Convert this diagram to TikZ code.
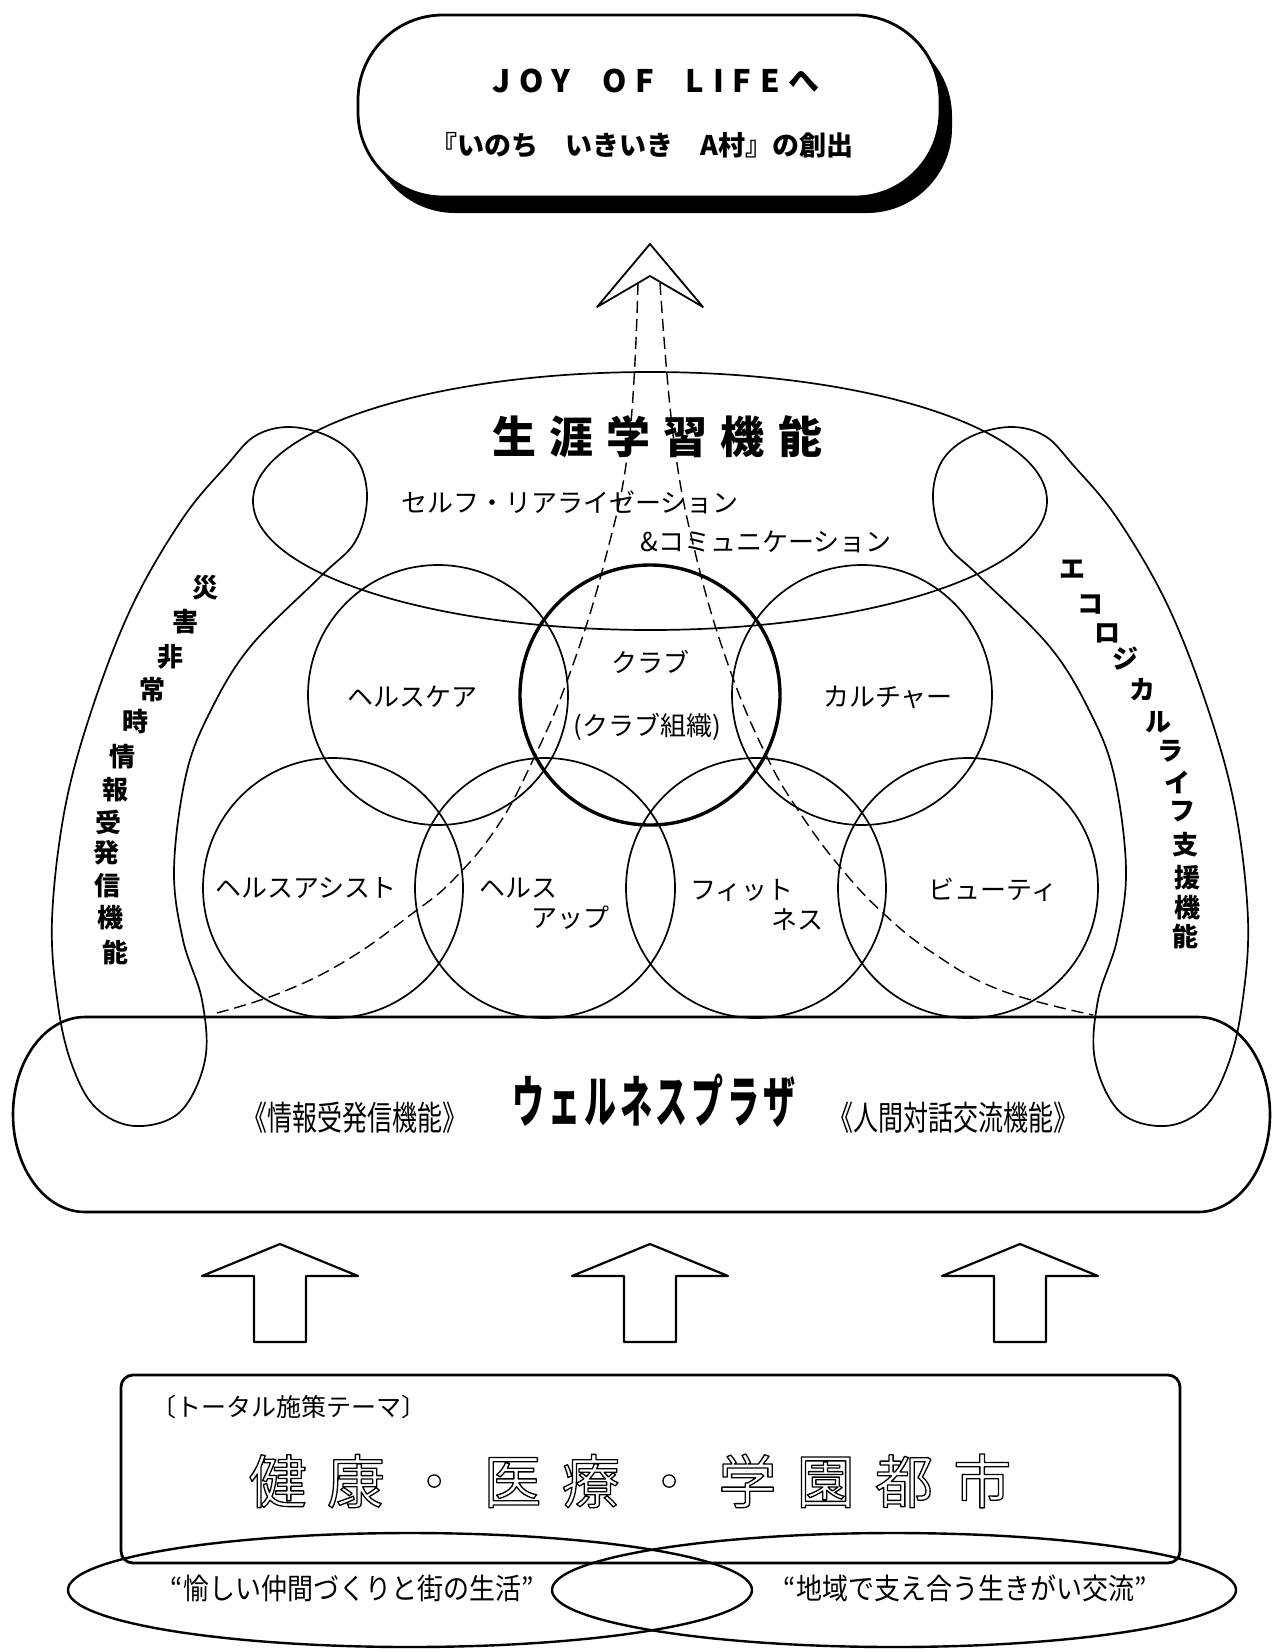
\documentclass[tikz,border=0pt]{standalone}
\usepackage{fontspec}
\setmainfont{Noto Sans CJK JP}
\usepackage{graphicx}
\usetikzlibrary{calc, shadows, shapes.geometric}
\newcommand{\fs}[1]{\fontsize{#1pt}{#1pt}\selectfont}
\newcommand{\hollow}[1]{\special{pdf:code 1 Tr 1.3 w}#1\special{pdf:code 0 Tr}}

\begin{document}
\begin{tikzpicture}[
  x=1pt, y=-1pt,
  line join=round,
  func/.style={circle, draw, line width=1.7pt, minimum size=260pt, inner sep=0pt},
  lbl/.style={font=\fs{26}, inner sep=0pt},
  vchar/.style={font=\fs{26}\bfseries, inner sep=0pt},
  band/.style={draw, line width=1.7pt},
  guide/.style={line width=1.4pt, dash pattern=on 12pt off 6pt},
  uparrow/.style={draw, line width=2.2pt},
  ring/.style={ellipse, draw, line width=2.4pt, inner sep=0pt},
]
\useasboundingbox (0,0) rectangle (1283,1652);
\clip (0,0) rectangle (1283,1652);

% ---------- goal ----------
\node[draw, line width=2.8pt, fill=white, rounded corners=85pt,
      minimum width=582pt, minimum height=182pt,
      drop shadow={fill=black, opacity=1, shadow xshift=12pt, shadow yshift=-16pt}]
  (goal) at (649,106) {};
\node[font=\fs{31}\bfseries\addfontfeature{LetterSpace=28}] (joy) at (656,81)
  {JOY\hspace{16pt} OF\hspace{16pt} LIFEへ};
\node[font=\fs{27}\bfseries] (inochi) at (642,145) {『いのち　いきいき　A村』の創出};

% ---------- upward arrow with dashed shaft ----------
\draw[line width=1.8pt] (597,307) -- (650,244) -- (703,307) -- (650,276) -- cycle;
\draw[guide] plot[smooth, tension=0.7] coordinates {(638,283) (629,442) (605,560) (570,673)
  (533,760) (497,827) (453,880) (413,913) (347,960) (280,993) (213,1014)};
\draw[guide] plot[smooth, tension=0.7] coordinates {(660,283) (674,442) (697,560) (730,670)
  (767,757) (800,813) (840,867) (883,913) (933,953) (1000,990) (1093,1015)};

% ---------- lifelong learning ellipse ----------
\node[ellipse, draw, line width=1.7pt, minimum width=794pt, minimum height=258pt,
      inner sep=0pt] (life) at (650,501) {};
\node[font=\fs{44}\bfseries\addfontfeature{LetterSpace=30}] (lifeT) at (657,437) {生涯学習機能};
\node[font=\fs{26}] (selfT) at (570,502) {セルフ・リアライゼーション};
\node[font=\fs{26}] (commT) at (766,542) {\&コミュニケーション};

% ---------- side bands (left, mirrored right) ----------
\foreach \side in {1,-1}
  \draw[band, shift={({650-650*\side},0)}, xscale=\side]
    plot[smooth cycle, tension=0.6] coordinates {(227,465) (183,518) (133,604) (93,706)
      (65,808) (52,920) (58,1005) (72,1065) (96,1108) (135,1126) (180,1112) (205,1060)
      (202,1000) (183,940) (174,869) (186,775) (210,712) (250,647) (320,577) (355,542)
      (367,499) (358,461) (330,437) (290,427) (255,436)};

\foreach \ch/\px/\py [count=\i] in {災/205/588, 害/185/622, 非/170/657, 常/152/690,
    時/135/722, 情/122/757, 報/115/790, 受/108/822, 発/106/853, 信/107/886,
    機/110/918, 能/115/953}
  \node[vchar] (dis\i) at (\px,\py) {\ch};
\foreach \ch/\px/\py [count=\i] in {エ/1072/569, コ/1090/604, ロ/1107/633, ジ/1125/659,
    カ/1142/690, ル/1158/722, ラ/1170/751, イ/1177/782, フ/1182/812, 支/1185/845,
    援/1187/878, 機/1187/908, 能/1185/937}
  \node[vchar] (eco\i) at (\px,\py) {\ch};

% ---------- function circles ----------
\node[func] (care) at (438,695) {};
\node[func, line width=3.4pt] (club) at (650,695) {};
\node[func] (culture) at (862,695) {};
\node[func] (assist) at (333,888) {};
\node[func] (up) at (545,888) {};
\node[func] (fit) at (756,888) {};
\node[func] (beauty) at (968,888) {};

\node[lbl] (careL) at ($(care)+(-26,2)$) {ヘルスケア};
\node[lbl] (clubL) at ($(club)+(0,-33)$) {クラブ};
\node[lbl] (clubL2) at ($(club)+(-3,32)$) {(クラブ組織)};
\node[lbl] (cultureL) at ($(culture)+(26,2)$) {カルチャー};
\node[lbl] (assistL) at ($(assist)+(-27,0)$) {ヘルスアシスト};
\node[lbl] (upL) at ($(up)+(-27,0)$) {ヘルス};
\node[lbl] (upL2) at ($(up)+(25,30)$) {アップ};
\node[lbl] (fitL) at ($(fit)+(-14,2)$) {フィット};
\node[lbl] (fitL2) at ($(fit)+(41,32)$) {ネス};
\node[lbl] (beautyL) at ($(beauty)+(25,2)$) {ビューティ};

% ---------- wellness plaza ----------
\draw[line width=2.6pt] (85,1017) -- (1198,1017)
  arc[start angle=-90, end angle=0, x radius=72, y radius=97.5]
  arc[start angle=0, end angle=90, x radius=72, y radius=97.5] -- (85,1212)
  arc[start angle=90, end angle=180, x radius=72, y radius=97.5]
  arc[start angle=180, end angle=270, x radius=72, y radius=97.5] -- cycle;
\node[font=\fs{25}] (infoL) at (355,1118) {\scalebox{1}[1.35]{《情報受発信機能》}};
\node[font=\fs{32}\bfseries\addfontfeature{LetterSpace=12}] (plaza) at (654,1101)
  {\scalebox{1}[1.75]{ウェルネスプラザ}};
\node[font=\fs{25}] (talkL) at (953,1118) {\scalebox{1}[1.35]{《人間対話交流機能》}};

% ---------- hollow arrows ----------
\foreach \ax [count=\i] in {280,650,1020}
  \draw[uparrow] (\ax-26,1342) -- (\ax-26,1276) -- (\ax-78,1276) -- (\ax,1244)
    -- (\ax+78,1276) -- (\ax+26,1276) -- (\ax+26,1342) -- cycle;

% ---------- theme box ----------
\node[draw, line width=2.8pt, rounded corners=12pt, minimum width=1059pt,
      minimum height=188pt] (theme) at (650.5,1469) {};
\node[anchor=west, font=\fs{25}] (themeL) at (148,1407) {〔トータル施策テーマ〕};
\node[font=\fs{58}\addfontfeature{LetterSpace=35}] (themeT) at (630,1481)
  {\hollow{健康・医療・学園都市}};

% ---------- two overlapping rings ----------
\node[ring, minimum width=684pt, minimum height=114pt] (fun) at (410,1590) {};
\node[ring, minimum width=684pt, minimum height=114pt] (mutual) at (894,1590) {};
\node[font=\fs{26}] (funL) at (352,1588) {\scalebox{1}[1.12]{“愉しい仲間づくりと街の生活”}};
\node[font=\fs{26}] (mutualL) at (965,1588) {\scalebox{1}[1.12]{“地域で支え合う生きがい交流”}};

\end{tikzpicture}
\end{document}
